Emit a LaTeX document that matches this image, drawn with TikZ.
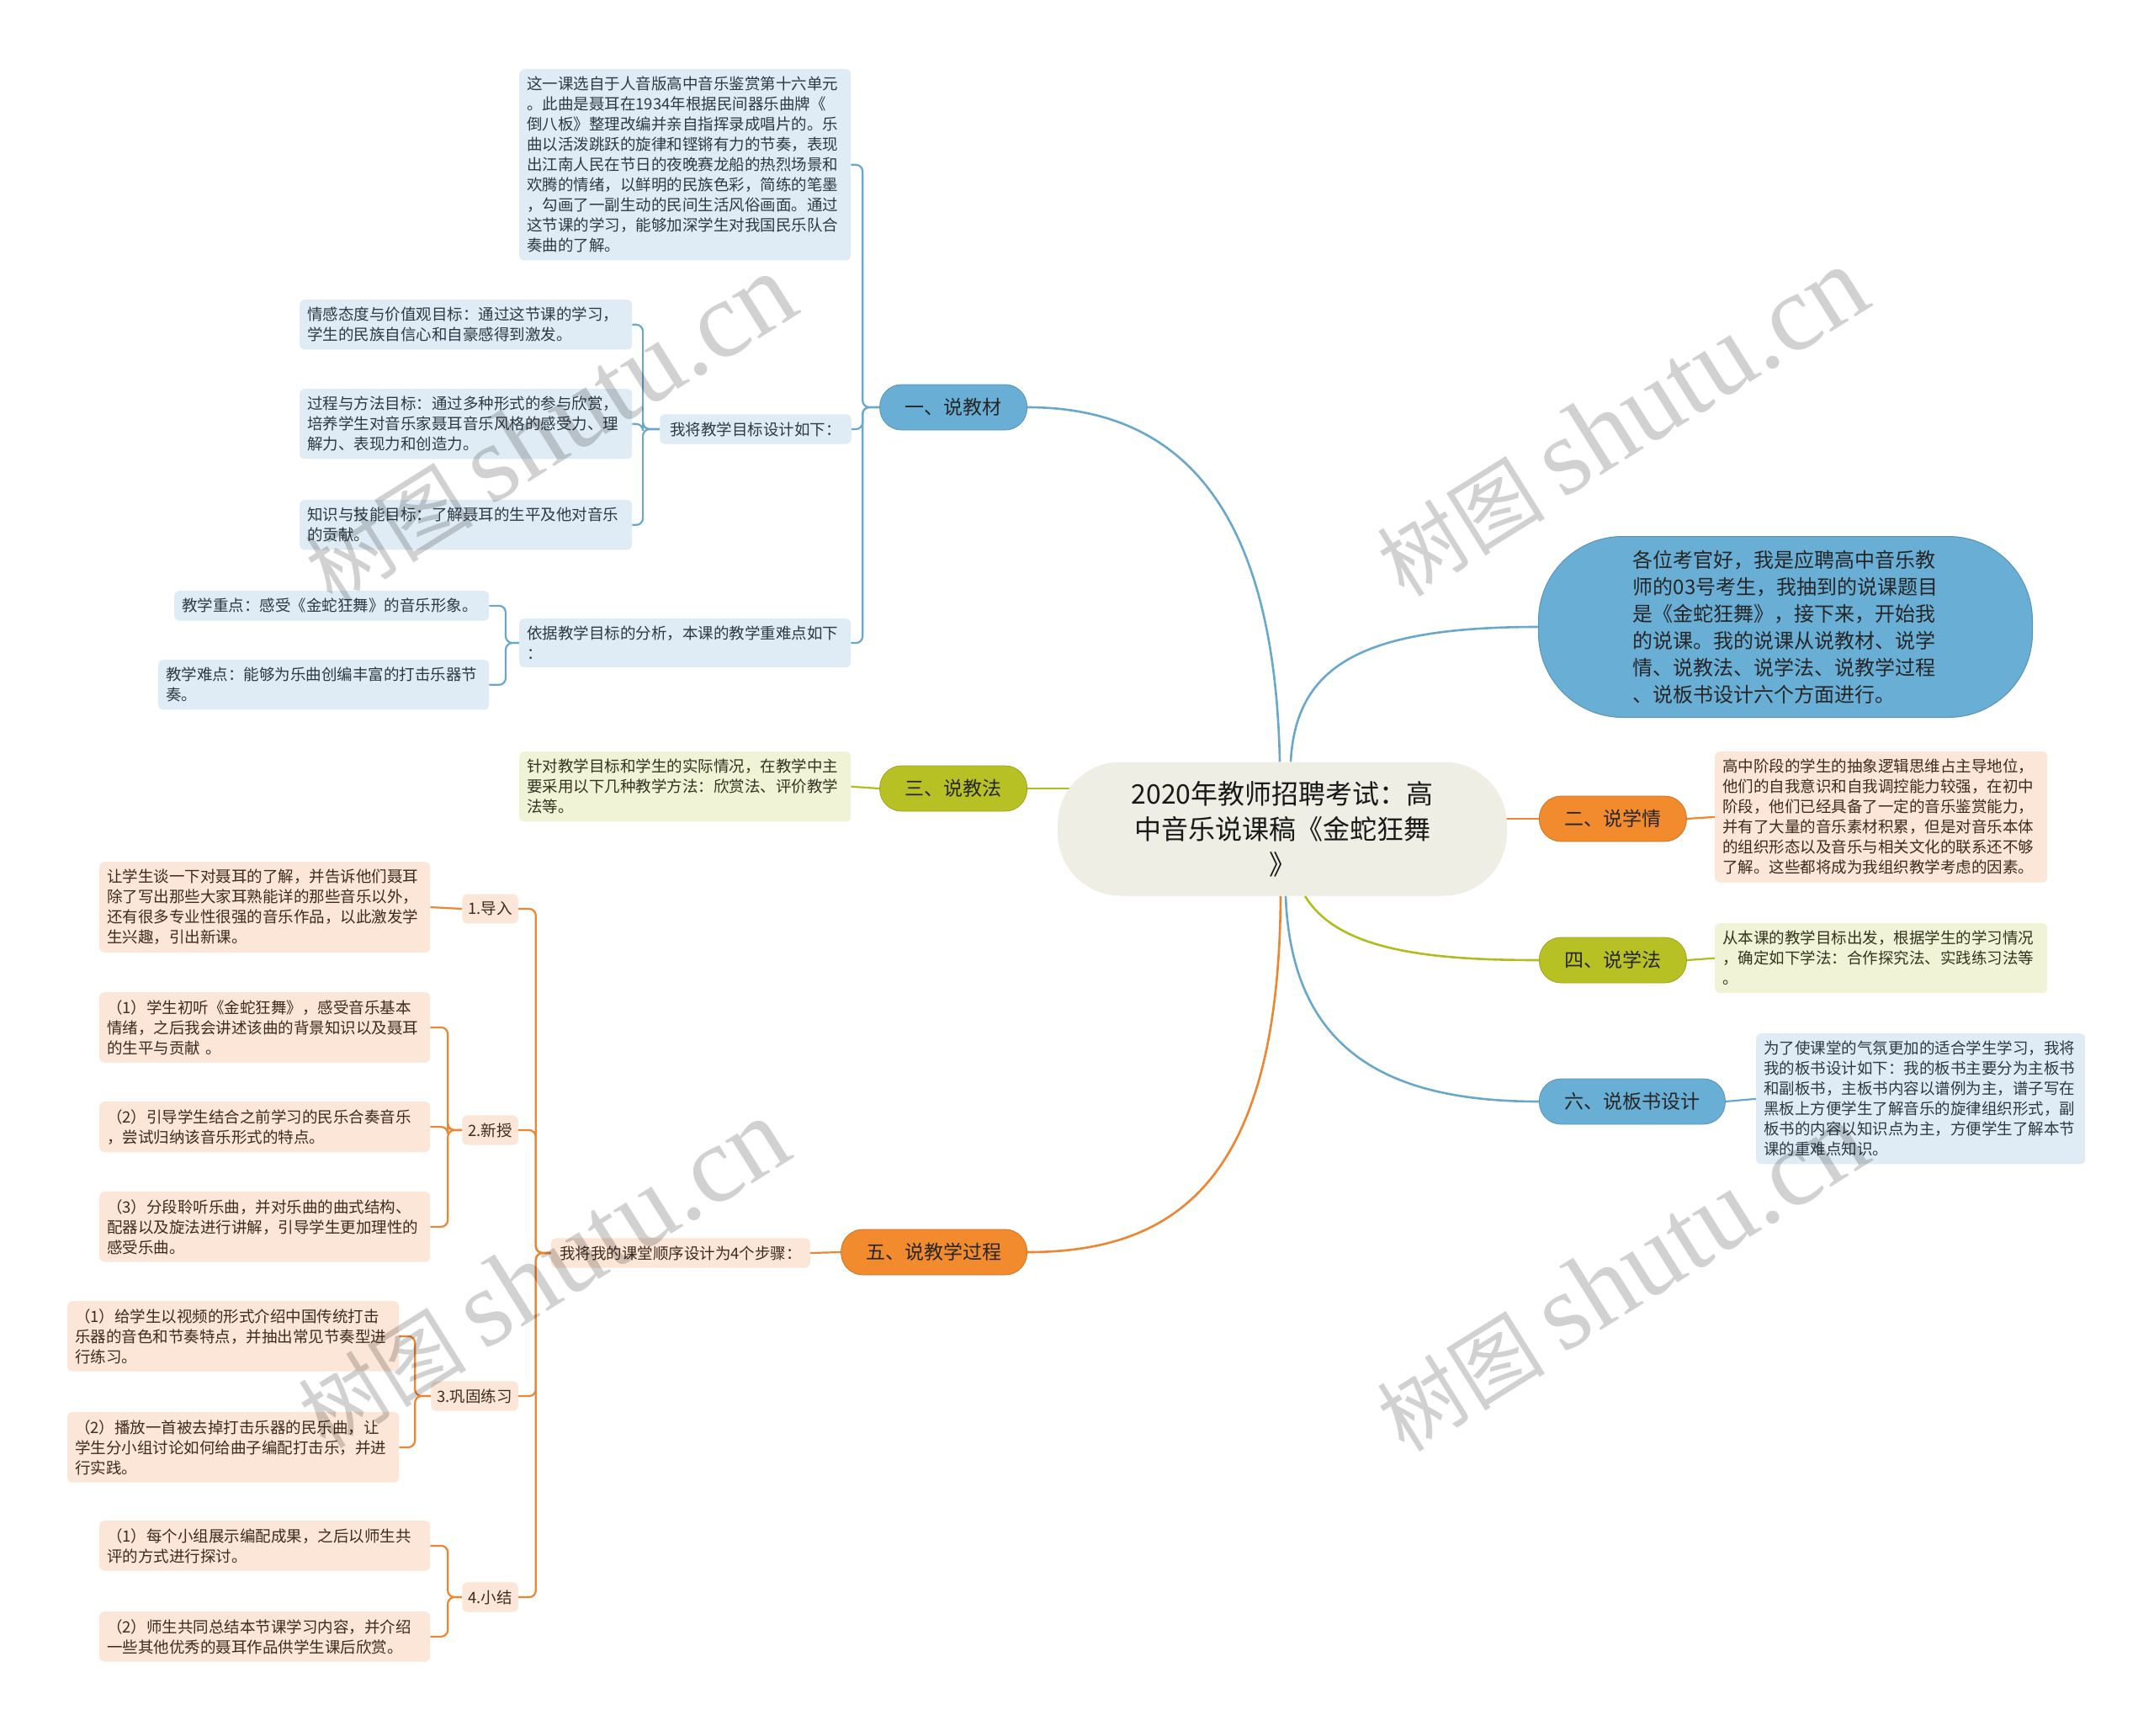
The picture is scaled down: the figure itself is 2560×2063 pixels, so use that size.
\documentclass[tikz,border=0pt]{standalone}
\usepackage{fontspec}
\setmainfont{Noto Sans CJK SC}
\newfontfamily\wmfont{Liberation Serif}
\usepackage{xcolor}
\usetikzlibrary{backgrounds}

\definecolor{cblue}{HTML}{6AA8CB}
\definecolor{pblue}{HTML}{69AED5}
\definecolor{lblue}{HTML}{DFECF5}
\definecolor{tblue}{HTML}{2C3A45}
\definecolor{corange}{HTML}{EE8530}
\definecolor{porange}{HTML}{F28A2E}
\definecolor{lorange}{HTML}{FCE6D7}
\definecolor{torange}{HTML}{3E2B1F}
\definecolor{colive}{HTML}{B3BC1E}
\definecolor{polive}{HTML}{B8C124}
\definecolor{lolive}{HTML}{F1F3D6}
\definecolor{tolive}{HTML}{33331F}
\definecolor{ctrfill}{HTML}{EEEEE5}

\tikzset{
  pill/.style={rounded corners=26pt, minimum height=54pt, inner xsep=30pt, font=\fontsize{23}{28}\selectfont, text=black!85},
  bpill/.style={pill, fill=pblue, draw=pblue!85!black, line width=0.8pt},
  opill/.style={pill, fill=porange, draw=porange!85!black, line width=0.8pt},
  gpill/.style={pill, fill=polive, draw=polive!85!black, line width=0.8pt},
  leaf/.style={rounded corners=6pt, align=left, inner xsep=9pt, inner ysep=9pt, font=\fontsize{18.5}{24}\selectfont},
  bleaf/.style={leaf, fill=lblue, text=tblue},
  oleaf/.style={leaf, fill=lorange, text=torange},
  gleaf/.style={leaf, fill=lolive, text=tolive},
  bline/.style={draw=cblue, line width=2.2pt, rounded corners=8pt},
  oline/.style={draw=corange, line width=2.2pt, rounded corners=8pt},
  gline/.style={draw=colive, line width=2.2pt},
  wmark/.style={rotate=32, text=black, opacity=0.18, font=\fontsize{100}{110}\selectfont}
}
\newcommand{\wmtext}{树图 {\wmfont\fontsize{130}{130}\selectfont shutu.cn}}

\begin{document}
\begin{tikzpicture}[x=1pt,y=-1pt]

\useasboundingbox (0,0) rectangle (2560,2063);

\node[fill=ctrfill, rounded corners=75pt, minimum width=534pt, minimum height=159pt, align=center, font=\fontsize{32}{42}\selectfont, text=black!90] (ctr) at (1524,985) {2020年教师招聘考试：高\\中音乐说课稿《金蛇狂舞\\》};

\node[fill=pblue, draw=pblue!85!black, line width=1pt, rounded corners=100pt, minimum width=587pt, minimum height=215pt, align=left, font=\fontsize{24}{32}\selectfont, text=black!85] (intro) at (2122,745) {各位考官好，我是应聘高中音乐教\\师的03号考生，我抽到的说课题目\\是《金蛇狂舞》，接下来，开始我\\的说课。我的说课从说教材、说学\\情、说教法、说学法、说教学过程\\、说板书设计六个方面进行。};

\node[bpill, anchor=east] (jc) at (1221,484) {一、说教材};
\node[opill, anchor=west] (xq) at (1829,973) {二、说学情};
\node[gpill, anchor=east] (jf) at (1221,937) {三、说教法};
\node[gpill, anchor=west] (xf) at (1829,1141) {四、说学法};
\node[opill, anchor=east] (gc) at (1221,1488) {五、说教学过程};
\node[bpill, anchor=west] (bs) at (1829,1309) {六、说板书设计};

\node[bleaf, anchor=north west, text width=376pt] (jcA) at (617,82) {这一课选自于人音版高中音乐鉴赏第十六单元\\。此曲是聂耳在1934年根据民间器乐曲牌《\\倒八板》整理改编并亲自指挥录成唱片的。乐\\曲以活泼跳跃的旋律和铿锵有力的节奏，表现\\出江南人民在节日的夜晚赛龙船的热烈场景和\\欢腾的情绪，以鲜明的民族色彩，简练的笔墨\\，勾画了一副生动的民间生活风俗画面。通过\\这节课的学习，能够加深学生对我国民乐队合\\奏曲的了解。};
\node[bleaf, anchor=east, inner xsep=12pt] (mb) at (1012,510) {我将教学目标设计如下：};
\node[bleaf, anchor=north west, text width=377pt] (mb1) at (356,356) {情感态度与价值观目标：通过这节课的学习，\\学生的民族自信心和自豪感得到激发。};
\node[bleaf, anchor=north west, text width=377pt] (mb2) at (356,462) {过程与方法目标：通过多种形式的参与欣赏，\\培养学生对音乐家聂耳音乐风格的感受力、理\\解力、表现力和创造力。};
\node[bleaf, anchor=north west, text width=377pt] (mb3) at (356,594) {知识与技能目标：了解聂耳的生平及他对音乐\\的贡献。};
\node[bleaf, anchor=north west, text width=376pt] (zd) at (617,735) {依据教学目标的分析，本课的教学重难点如下\\：};
\node[bleaf, anchor=north west, text width=356pt] (zd1) at (207,702) {教学重点：感受《金蛇狂舞》的音乐形象。};
\node[bleaf, anchor=north west, text width=375pt] (zd2) at (188,784) {教学难点：能够为乐曲创编丰富的打击乐器节\\奏。};

\node[gleaf, anchor=north west, text width=376pt] (jfA) at (617,893) {针对教学目标和学生的实际情况，在教学中主\\要采用以下几种教学方法：欣赏法、评价教学\\法等。};
\node[oleaf, anchor=north west, text width=377pt] (xqA) at (2038,893) {高中阶段的学生的抽象逻辑思维占主导地位，\\他们的自我意识和自我调控能力较强，在初中\\阶段，他们已经具备了一定的音乐鉴赏能力，\\并有了大量的音乐素材积累，但是对音乐本体\\的组织形态以及音乐与相关文化的联系还不够\\了解。这些都将成为我组织教学考虑的因素。};
\node[gleaf, anchor=north west, text width=377pt] (xfA) at (2038,1097) {从本课的教学目标出发，根据学生的学习情况\\，确定如下学法：合作探究法、实践练习法等\\。};
\node[bleaf, anchor=north west, text width=373pt] (bsA) at (2087,1228) {为了使课堂的气氛更加的适合学生学习，我将\\我的板书设计如下：我的板书主要分为主板书\\和副板书，主板书内容以谱例为主，谱子写在\\黑板上方便学生了解音乐的旋律组织形式，副\\板书的内容以知识点为主，方便学生了解本节\\课的重难点知识。};

\node[oleaf, anchor=east, inner xsep=10pt] (gcA) at (963,1489) {我将我的课堂顺序设计为4个步骤：};
\node[oleaf, anchor=east, inner xsep=7pt] (s1) at (616,1080) {1.导入};
\node[oleaf, anchor=east, inner xsep=7pt] (s2) at (616,1343) {2.新授};
\node[oleaf, anchor=east, inner xsep=7pt] (s3) at (616,1659) {3.巩固练习};
\node[oleaf, anchor=east, inner xsep=7pt] (s4) at (616,1898) {4.小结};
\node[oleaf, anchor=north west, text width=375pt] (s1a) at (118,1024) {让学生谈一下对聂耳的了解，并告诉他们聂耳\\除了写出那些大家耳熟能详的那些音乐以外，\\还有很多专业性很强的音乐作品，以此激发学\\生兴趣，引出新课。};
\node[oleaf, anchor=north west, text width=375pt] (s2a) at (118,1179) {（1）学生初听《金蛇狂舞》，感受音乐基本\\情绪，之后我会讲述该曲的背景知识以及聂耳\\的生平与贡献 。};
\node[oleaf, anchor=north west, text width=375pt] (s2b) at (118,1309) {（2）引导学生结合之前学习的民乐合奏音乐\\，尝试归纳该音乐形式的特点。};
\node[oleaf, anchor=north west, text width=375pt] (s2c) at (118,1416) {（3）分段聆听乐曲，并对乐曲的曲式结构、\\配器以及旋法进行讲解，引导学生更加理性的\\感受乐曲。};
\node[oleaf, anchor=north west, text width=376pt] (s3a) at (80,1546) {（1）给学生以视频的形式介绍中国传统打击\\乐器的音色和节奏特点，并抽出常见节奏型进\\行练习。};
\node[oleaf, anchor=north west, text width=376pt] (s3b) at (80,1678) {（2）播放一首被去掉打击乐器的民乐曲，让\\学生分小组讨论如何给曲子编配打击乐，并进\\行实践。};
\node[oleaf, anchor=north west, text width=375pt] (s4a) at (118,1807) {（1）每个小组展示编配成果，之后以师生共\\评的方式进行探讨。};
\node[oleaf, anchor=north west, text width=375pt] (s4b) at (118,1915) {（2）师生共同总结本节课学习内容，并介绍\\一些其他优秀的聂耳作品供学生课后欣赏。};

\begin{pgfonlayer}{background}
\fill[white] (0,0) rectangle (2560,2063);
\draw[cblue, line width=2.6pt] ([xshift=-3pt]ctr.north) .. controls (1515,600) and (1400,484) .. (jc.east);
\draw[cblue, line width=2.6pt] ([xshift=10pt]ctr.north) .. controls (1540,790) and (1620,745) .. (intro.west);
\draw[corange, line width=2.6pt] ([xshift=-20pt]ctr.east |- xq.west) -- (xq.west);
\draw[colive, line width=2.6pt] ([xshift=30pt]ctr.west |- jf.east) -- (jf.east);
\draw[colive, line width=2.6pt] ([xshift=27pt]ctr.south) .. controls (1590,1130) and (1700,1141) .. (xf.west);
\draw[cblue, line width=2.6pt] ([xshift=4pt]ctr.south) .. controls (1535,1250) and (1650,1309) .. (bs.west);
\draw[corange, line width=2.6pt] ([xshift=-2pt]ctr.south) .. controls (1520,1400) and (1400,1488) .. (gc.east);

\draw[bline] (jc.west) -- ++(-20,0) |- (jcA.east);
\draw[bline] (jc.west) -- ++(-20,0) |- (mb.east);
\draw[bline] (jc.west) -- ++(-20,0) |- (zd.east);
\draw[bline] (mb.west) -- ++(-20,0) |- (mb1.east);
\draw[bline] (mb.west) -- ++(-20,0) |- (mb2.east);
\draw[bline] (mb.west) -- ++(-20,0) |- (mb3.east);
\draw[bline] (zd.west) -- ++(-16,0) |- (zd1.east);
\draw[bline] (zd.west) -- ++(-16,0) |- (zd2.east);
\draw[gline] (jf.west) -- (jfA.east);
\draw[oline] (xq.east) -- (xqA.west);
\draw[gline] (xf.east) -- (xfA.west);
\draw[bline] (bs.east) -- (bsA.west);

\draw[oline] (gc.west) -- (gcA.east);
\draw[oline] (gcA.west) -- ++(-18,0) |- (s1.east);
\draw[oline] (gcA.west) -- ++(-18,0) |- (s2.east);
\draw[oline] (gcA.west) -- ++(-18,0) |- (s3.east);
\draw[oline] (gcA.west) -- ++(-18,0) |- (s4.east);
\draw[oline] (s1.west) -- (s1a.east);
\draw[oline] (s2.west) -- ++(-17,0) |- (s2a.east);
\draw[oline] (s2.west) -- ++(-17,0) |- (s2b.east);
\draw[oline] (s2.west) -- ++(-17,0) |- (s2c.east);
\draw[oline] (s3.west) -- ++(-19,0) |- (s3a.east);
\draw[oline] (s3.west) -- ++(-19,0) |- (s3b.east);
\draw[oline] (s4.west) -- ++(-17,0) |- (s4a.east);
\draw[oline] (s4.west) -- ++(-17,0) |- (s4b.east);
\end{pgfonlayer}

\node[wmark] (wm1) at (653,510) {\wmtext};
\node[wmark] (wm2) at (1927,502) {\wmtext};
\node[wmark] (wm3) at (645,1514) {\wmtext};
\node[wmark] (wm4) at (1927,1518) {\wmtext};

\end{tikzpicture}
\end{document}
